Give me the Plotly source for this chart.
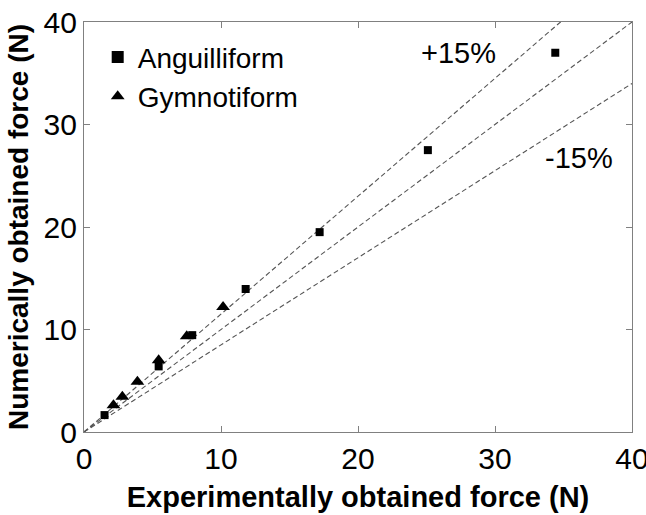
import plotly.graph_objects as go

# Data
ang_x = [1.5, 5.45, 7.9, 11.8, 17.2, 25.1, 34.4]
ang_y = [1.65, 6.4, 9.45, 13.95, 19.5, 27.5, 37.0]
gym_x = [2.15, 2.8, 3.9, 5.45, 7.5, 10.15]
gym_y = [2.6, 3.45, 4.9, 7.0, 9.35, 12.2]
ref_x = [0, 40]
factors = [1.15, 1.0, 0.85]
ticks = [0, 10, 20, 30, 40]

FONT = "Liberation Sans, Arial, sans-serif"
fig = go.Figure()

for f in factors:
    fig.add_trace(go.Scatter(
        x=ref_x, y=[v * f for v in ref_x], mode="lines",
        line=dict(color="#555555", width=1.1, dash="5px,3px"),
        showlegend=False, hoverinfo="skip"))

fig.add_trace(go.Scatter(
    x=ang_x, y=ang_y, mode="markers", name="Anguilliform",
    marker=dict(symbol="square", size=8, color="black")))
fig.add_trace(go.Scatter(
    x=gym_x, y=gym_y, mode="markers", name="Gymnotiform",
    marker=dict(symbol="triangle-up", size=12, color="black")))

fig.add_annotation(x=27.3, y=37.0, text="+15%", showarrow=False,
                   font=dict(size=29, color="black", family=FONT))
fig.add_annotation(x=36.1, y=26.7, text="-15%", showarrow=False,
                   font=dict(size=29, color="black", family=FONT))

axis_common = dict(
    range=[0, 40], tickvals=ticks, ticks="inside", ticklen=6,
    tickcolor="#808080", showline=True, linecolor="#808080", linewidth=1.3,
    mirror="ticks", showgrid=False, zeroline=False,
    ticklabeloverflow="allow", automargin=False,
    tickfont=dict(size=30, color="black", family=FONT),
)

fig.update_layout(
    width=646, height=515,
    margin=dict(l=84, r=14, t=22, b=83),
    paper_bgcolor="white", plot_bgcolor="white",
    font=dict(family=FONT, color="black"),
    xaxis=dict(**axis_common,
               title=dict(text="<b>Experimentally obtained force (N)</b>",
                          font=dict(size=29, family=FONT), standoff=12)),
    yaxis=dict(**axis_common,
               title=dict(text="<b>Numerically obtained force (N)</b>",
                          font=dict(size=28, family=FONT), standoff=6)),
    legend=dict(x=0.025, y=0.975, xanchor="left", yanchor="top",
                bgcolor="rgba(0,0,0,0)", font=dict(size=28, family=FONT),
                itemsizing="constant", tracegroupgap=0),
)

fig.write_html("out.html")
